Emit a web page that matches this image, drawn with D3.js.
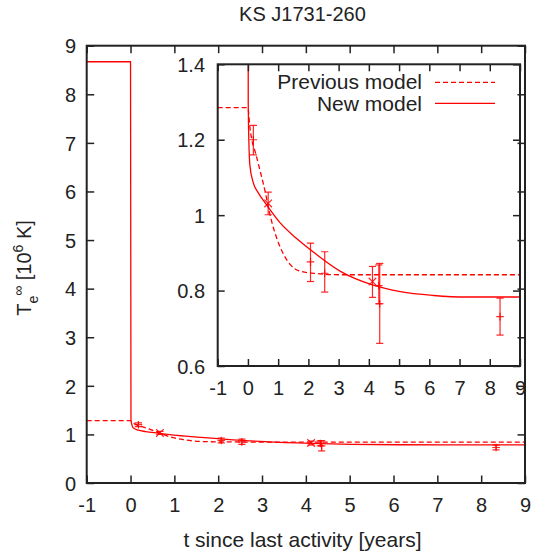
<!DOCTYPE html>
<html>
<head>
<meta charset="utf-8">
<script src="https://cdn.jsdelivr.net/npm/d3@7/dist/d3.min.js"></script>
<style>
  html, body { margin: 0; padding: 0; background: #fff; }
  svg { display: block; }
  text { font-family: "Liberation Sans", Arial, Helvetica, sans-serif; fill: #222; }
</style>
</head>
<body>
<svg id="chart" width="533" height="554"></svg>
<script>
// ---------------- data ----------------
const chartTitle = "KS J1731-260";
const xTicks = [-1, 0, 1, 2, 3, 4, 5, 6, 7, 8, 9];
const xTickLabels = ["-1", "0", "1", "2", "3", "4", "5", "6", "7", "8", "9"];
const yTicksMain = [0, 1, 2, 3, 4, 5, 6, 7, 8, 9];
const yTicksInset = [0.6, 0.8, 1.0, 1.2, 1.4];
const yTickLabelsInset = ["0.6", "0.8", "1", "1.2", "1.4"];

// observations (t [years], T_e^inf [10^6 K])
const obsT   = [0.18, 0.67, 2.07, 2.54, 4.12, 4.33, 4.36, 8.34];
const obsTe  = [1.200, 1.031, 0.876, 0.846, 0.824, 0.813, 0.765, 0.731];
const obsLo  = [1.160, 1.001, 0.824, 0.796, 0.782, 0.765, 0.660, 0.682];
const obsHi  = [1.238, 1.061, 0.926, 0.903, 0.864, 0.868, 0.872, 0.780];
const obsMarker = ["+", "x", "+", "+", "x", "+", "+", "+"];

// previous model (dashed)
const prevT  = [-1, 0, 0.06, 0.13, 0.25, 0.42, 0.58, 0.69, 0.80, 0.97, 1.20, 1.41, 1.74, 2.29, 3.0, 9.0];
const prevTe = [1.285, 1.285, 1.236, 1.200, 1.165, 1.112, 1.059, 1.015, 0.979, 0.935, 0.893, 0.868, 0.851, 0.845, 0.842, 0.842];

// new model (solid)
const newT  = [-1, 0, 0.01, 0.04, 0.068, 0.178, 0.343, 0.62, 1.06, 1.61, 2.07, 3.06, 4.12, 5.04, 6.14, 7.24, 9.0];
const newTe = [8.67, 8.67, 1.30, 1.17, 1.13, 1.086, 1.059, 1.027, 0.980, 0.938, 0.908, 0.851, 0.815, 0.797, 0.787, 0.783, 0.783];

const legendNames = ["Previous model", "New model"];

// ---------------- drawing ----------------
const svg = d3.select("#chart");
const RED = "#ff0000";

const prevData = prevT.map((t, i) => ({t, v: prevTe[i]}));
const newData  = newT.map((t, i) => ({t, v: newTe[i]}));
const obs = obsT.map((t, i) => ({t, v: obsTe[i], lo: obsLo[i], hi: obsHi[i], m: obsMarker[i]}));

function drawPanel(cfg) {
  const {x, y, id, xTickVals, yTickVals, yTickFmt, tickLen, xLabY, yLabX} = cfg;
  const g = svg.append("g");
  const [x0, x1] = x.range();
  const [y0, y1] = y.range(); // y0 bottom, y1 top

  g.append("clipPath").attr("id", id).append("rect")
    .attr("x", x0).attr("y", y1).attr("width", x1 - x0).attr("height", y0 - y1);

  const plot = g.append("g").attr("clip-path", `url(#${id})`);
  const line = d3.line().x(d => x(d.t)).y(d => y(d.v)).curve(d3.curveMonotoneX);

  plot.append("path").datum(prevData).attr("d", line)
    .attr("fill", "none").attr("stroke", RED).attr("stroke-width", 1.3)
    .attr("stroke-dasharray", "5,3");
  plot.append("path").datum(newData).attr("d", line)
    .attr("fill", "none").attr("stroke", RED).attr("stroke-width", 1.3);

  // error bars
  const cap = 3.6, ms = 3.8;
  const pts = plot.selectAll("g.pt").data(obs).join("g").attr("class", "pt")
    .attr("stroke", RED).attr("stroke-width", 1.2).attr("stroke-opacity", 0.85);
  pts.append("line").attr("x1", d => x(d.t)).attr("x2", d => x(d.t))
    .attr("y1", d => y(d.lo)).attr("y2", d => y(d.hi));
  pts.append("line").attr("x1", d => x(d.t) - cap).attr("x2", d => x(d.t) + cap)
    .attr("y1", d => y(d.lo)).attr("y2", d => y(d.lo));
  pts.append("line").attr("x1", d => x(d.t) - cap).attr("x2", d => x(d.t) + cap)
    .attr("y1", d => y(d.hi)).attr("y2", d => y(d.hi));
  pts.append("path").attr("fill", "none").attr("d", d => {
    const cx = x(d.t), cy = y(d.v);
    if (d.m === "x") return `M${cx-ms},${cy-ms}L${cx+ms},${cy+ms}M${cx-ms},${cy+ms}L${cx+ms},${cy-ms}`;
    return `M${cx-ms},${cy}L${cx+ms},${cy}M${cx},${cy-ms}L${cx},${cy+ms}`;
  });

  // axes with mirrored inward ticks
  const axB = d3.axisBottom(x).tickValues(xTickVals).tickSize(-tickLen).tickFormat((d, i) => xTickLabels[i]);
  const axT = d3.axisTop(x).tickValues(xTickVals).tickSize(-tickLen).tickFormat("");
  const axL = d3.axisLeft(y).tickValues(yTickVals).tickSize(-tickLen).tickFormat(yTickFmt);
  const axR = d3.axisRight(y).tickValues(yTickVals).tickSize(-tickLen).tickFormat("");

  const gB = g.append("g").attr("transform", `translate(0,${y0})`).call(axB);
  const gT = g.append("g").attr("transform", `translate(0,${y1})`).call(axT);
  const gL = g.append("g").attr("transform", `translate(${x0},0)`).call(axL);
  const gR = g.append("g").attr("transform", `translate(${x1},0)`).call(axR);
  [gB, gT, gL, gR].forEach(a => {
    a.select(".domain").remove();
    a.selectAll(".tick line").attr("stroke", "#222").attr("stroke-width", 1.5);
    a.selectAll("text").attr("fill", "#222").style("font-size", "20px")
      .style("font-family", '"Liberation Sans", Arial, sans-serif');
  });
  gB.selectAll("text").attr("y", xLabY - y0).attr("dy", 0);
  gL.selectAll("text").attr("x", yLabX - x0).attr("dy", "0.36em");

  g.append("rect").attr("x", x0).attr("y", y1).attr("width", x1 - x0).attr("height", y0 - y1)
    .attr("fill", "none").attr("stroke", "#222").attr("stroke-width", 2);
  return g;
}

// main panel
const xMain = d3.scaleLinear().domain([-1, 9]).range([86.7, 525]);
const yMain = d3.scaleLinear().domain([0, 9]).range([483, 45.7]);
drawPanel({x: xMain, y: yMain, id: "clipMain", xTickVals: xTicks, yTickVals: yTicksMain,
  yTickFmt: d3.format("d"), tickLen: 7.5, xLabY: 512, yLabX: 76});

// inset panel
const xIn = d3.scaleLinear().domain([-1, 9]).range([217.7, 520]);
const yIn = d3.scaleLinear().domain([0.6, 1.4]).range([366, 64.3]);
drawPanel({x: xIn, y: yIn, id: "clipInset", xTickVals: xTicks, yTickVals: yTicksInset,
  yTickFmt: (d, i) => yTickLabelsInset[i], tickLen: 7, xLabY: 395, yLabX: 205});

// legend
const legY = [82.3, 103.3];
const legTextY = [89, 111];
legendNames.forEach((name, i) => {
  svg.append("text").attr("x", 422).attr("y", legTextY[i]).attr("text-anchor", "end")
    .style("font-size", "21px").text(name);
  svg.append("line").attr("x1", 435).attr("x2", 495).attr("y1", legY[i]).attr("y2", legY[i])
    .attr("stroke", RED).attr("stroke-width", 1.3)
    .attr("stroke-dasharray", i === 0 ? "5,3" : null);
});

// title
svg.append("text").attr("x", 302.5).attr("y", 20.7).attr("text-anchor", "middle")
  .style("font-size", "20px").text(chartTitle);

// x label
svg.append("text").attr("x", 302.5).attr("y", 547).attr("text-anchor", "middle")
  .style("font-size", "21px").text("t since last activity [years]");

// y label
const yl = svg.append("text").attr("transform", "translate(31,268) rotate(-90)")
  .attr("text-anchor", "middle").style("font-size", "20px");
yl.append("tspan").text("T");
yl.append("tspan").style("font-size", "14px").attr("dy", 7).text("e");
yl.append("tspan").style("font-size", "14px").attr("dy", -15).text("∞");
yl.append("tspan").attr("dy", 8).text(" [10");
yl.append("tspan").style("font-size", "14px").attr("dy", -8).text("6");
yl.append("tspan").attr("dy", 8).text(" K]");
</script>
</body>
</html>
